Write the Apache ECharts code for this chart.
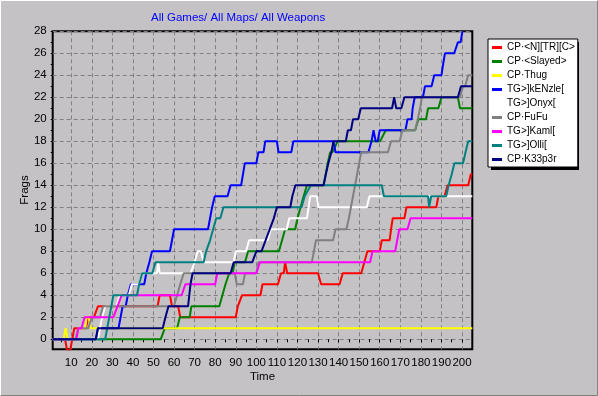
<!DOCTYPE html>
<html><head><meta charset="utf-8">
<script src="https://cdn.jsdelivr.net/npm/echarts@6/dist/echarts.min.js"></script>
<style>html,body{margin:0;padding:0;background:#c4c2c4;}#c{width:598px;height:396px;}</style>
</head><body><div id="c"></div>
<script>
const titleText = "All Games/ All Maps/ All Weapons";
const xName = "Time";
const yName = "Frags";
const names = ["CP·<N][TR][C>","CP·<Slayed>","CP·Thug","TG>]kENzle[","TG>]Onyx[","CP·FuFu","TG>]Kaml[","TG>]Olli[","CP·K33p3r"];
const colors = ["#ff0000","#008000","#ffff00","#0000ff","#ffffff","#808080","#ff00ff","#008080","#000080"];
const xLabels = [10,20,30,40,50,60,70,80,90,100,110,120,130,140,150,160,170,180,190,200];
const xMinorTicks = [5,10,15,20,25,30,35,40,45,50,55,60,65,70,75,80,85,90,95,100,105,110,115,120,125,130,135,140,145,150,155,160,165,170,175,180,185,190,195,200,205];
const yLabels = [0,2,4,6,8,10,12,14,16,18,20,22,24,26,28];
const yMinorTicks = [0,1,2,3,4,5,6,7,8,9,10,11,12,13,14,15,16,17,18,19,20,21,22,23,24,25,26,27,28];

// [time, frags]
const sRed = [[1,0],[7,0],[8,-1],[9.5,-1],[10.5,0],[11.5,1],[17,1],[18.5,2],[21,2],[23,3],[52,3],[53,4],[58,4],[59,3],[62,3],[63,2],[90,2],[91,3],[93,4],[102,4],[103,5],[110.5,5],[112,6],[113.3,6],[114,7],[114.5,7],[115,6],[130,6],[131.5,5],[140.5,5],[142,6],[151,6],[152.5,7],[154,8],[160,8],[161,9],[164.8,9],[165.5,10],[166.3,11],[172,11],[173,12],[187.5,12],[188.5,13],[191.5,13],[193,14],[203,14],[204.3,15],[205,15]];
const sGreen = [[1,0],[53.5,0],[55.5,1],[61.5,1],[62.8,2],[67.6,2],[68.4,3],[82,3],[83.5,4],[85,5],[86.8,6],[88.5,6],[89.5,7],[94.5,7],[96,8],[111,8],[112.5,9],[114,10],[118.9,10],[120,11],[121.5,12],[123,13],[124.6,14],[132.7,14],[133.7,15],[134.7,16],[135.9,17],[137,17],[139.5,18],[160.2,18],[162.9,19],[177.2,19],[178.8,20],[182.5,20],[183.5,21],[188.5,21],[190,22],[198,22],[199,21],[205,21]];
const sYellow = [[1,0],[6.3,0],[7.3,1],[8.3,0],[12.5,0],[13.5,1],[16.8,1],[17.5,2],[18.5,2],[19.5,1],[205,1]];
const sBlue = [[1,0],[22,0],[23,1],[33,1],[34,2],[35,3],[36.5,3],[37.5,4],[39,5],[45.5,5],[46.5,6],[48,7],[49.3,8],[58,8],[59,9],[60,10],[76.5,10],[77.5,11],[78.5,12],[79.8,13],[86,13],[87.5,14],[92.6,14],[93.5,15],[94.4,16],[100,16],[101,17],[103.5,17],[104.3,18],[110,18],[110.8,17],[117,17],[118,18],[137.5,18],[138.5,17],[154.5,17],[156,18],[157,19],[158,18],[159,18],[160,19],[172.5,19],[173.5,20],[175.5,20],[176,21],[177,22],[181,22],[182,23],[185.2,23],[186.5,24],[190,24],[190.8,25],[191.7,26],[196.2,26],[198,27],[199.3,27],[200.2,28]];
const sWhite = [[1,0],[23,0],[24,1],[25,2],[26.5,3],[32,3],[33.5,4],[38,4],[39.5,5],[43,5],[44.5,6],[51.7,6],[52.3,7],[53,6],[68,6],[70,7],[71.5,8],[73,8],[74.5,7],[89,7],[90,8],[95,8],[96.5,9],[105.5,9],[107,10],[114.8,10],[116,11],[124.6,11],[125.4,12],[126.2,13],[129.4,13],[130.2,12],[153.7,12],[155,13],[205,13]];
const sGray = [[1,0],[12,0],[13.5,1],[18.3,1],[20,2],[24,2],[25.5,3],[59.9,3],[61.5,4],[63,5],[64.7,6],[89.5,6],[90.5,5],[93.5,5],[94.5,6],[100,6],[101,7],[127,7],[128,8],[129,9],[137.3,9],[138.5,10],[143.8,10],[145,11],[146,12],[147,13],[148,14],[149,15],[150,16],[151,17],[164,17],[165.5,18],[169.7,18],[171,19],[177.2,19],[178.5,20],[179.6,21],[180.5,22],[199,22],[200.5,23],[201.5,23],[203,24],[205,24]];
const sMagenta = [[1,0],[12.5,0],[13.5,1],[15,1],[16.5,2],[30.5,2],[32.5,3],[34.5,4],[63.7,4],[65.5,5],[80,5],[81,6],[100,6],[101.8,7],[155.3,7],[156.5,8],[167.5,8],[168.5,9],[169.5,10],[173.5,10],[175,11],[205,11]];
const sTeal = [[1,0],[26.5,0],[27.5,1],[28.5,2],[29.5,3],[30.5,4],[42,4],[43,5],[44.5,6],[49.4,6],[51,7],[74.4,7],[75.6,8],[77.5,9],[79,10],[80.5,11],[82.5,11],[84,12],[122,12],[123.5,13],[126.5,14],[161,14],[162,13],[183.5,13],[184,12],[184.5,12],[185,13],[192.3,13],[193.5,14],[195,15],[196.3,16],[200.5,16],[201.7,17],[203,18],[205,18]];
const sNavy = [[1,0],[22,0],[23,1],[54.5,1],[55.8,2],[57.3,3],[66.8,3],[68,5],[69,6],[87.5,6],[89,7],[98,7],[100,8],[102.5,8],[104.5,9],[106.5,10],[108.5,11],[110,12],[116.5,12],[117.5,13],[119,14],[132.7,14],[133.8,15],[135,16],[136.5,17],[137.5,18],[143.5,18],[144.5,19],[146,19],[147,20],[149.5,20],[150.8,21],[166,21],[167,22],[168,21],[170.5,21],[172,22],[198,22],[199.5,23],[205,23]];
const seriesData = [sRed,sGreen,sYellow,sBlue,sWhite,sGray,sMagenta,sTeal,sNavy];

const chart = echarts.init(document.getElementById('c'), null, {renderer:'canvas'});
const F = 'Liberation Sans, Arial, sans-serif';
const G = {left:52.7, right:125.7, top:31.3, bottom:46.8};
chart.setOption({
  animation:false,
  backgroundColor:'#c4c2c4',
  textStyle:{fontFamily:F},
  title:{text:titleText, left:151, top:12, padding:0, textStyle:{color:'#0000ff', fontSize:11.5, fontWeight:'normal', fontFamily:F}},
  grid:Object.assign({show:true, borderColor:'#000', borderWidth:2, backgroundColor:'transparent', containLabel:false}, G),
  legend:{orient:'vertical', left:488, top:39, padding:[3,3,2,4], itemGap:3, itemWidth:10, itemHeight:3, icon:'rect',
    backgroundColor:'#fff', borderColor:'#000', borderWidth:1, selectedMode:false,
    textStyle:{fontSize:10, lineHeight:11, color:'#000', fontFamily:F}, data:names},
  graphic:[
    {type:'rect', z:0, shape:{x:491, y:42, width:88, height:128}, style:{fill:'#000'}},
    {type:'polyline', z:0, shape:{points:[[0.5,395],[0.5,0.5],[597,0.5]]}, style:{stroke:'#ffffff', lineWidth:1, fill:null}},
    {type:'polyline', z:0, shape:{points:[[1,395.5],[597.5,395.5],[597.5,1]]}, style:{stroke:'#808080', lineWidth:1, fill:null}},
    {type:'text', z:5, x:262.5, y:377, style:{text:xName, fill:'#000', font:'11.5px '+F, align:'center', verticalAlign:'middle'}},
    {type:'text', z:5, x:25, y:190, rotation:Math.PI/2, style:{text:yName, fill:'#000', font:'11.5px '+F, align:'center', verticalAlign:'middle'}}
  ],
  xAxis:[
    {type:'value', min:1, max:205, position:'bottom',
     axisLine:{show:false}, axisTick:{show:false, customValues:xLabels},
     axisLabel:{color:'#000', fontSize:11.5, margin:8, customValues:xLabels, fontFamily:F},
     splitLine:{show:true, lineStyle:{color:'#808080', type:[4,3], width:1}}},
    {type:'value', min:1, max:205, position:'bottom', axisLine:{show:false},
     axisTick:{show:true, inside:false, length:3, customValues:xMinorTicks, lineStyle:{color:'#000'}},
     axisLabel:{show:false}, splitLine:{show:false}}
  ],
  yAxis:[
    {type:'value', min:-0.9, max:28, position:'left',
     axisLine:{show:false}, axisTick:{show:false, customValues:yLabels},
     axisLabel:{color:'#000', fontSize:11.5, margin:6, customValues:yLabels, fontFamily:F},
     splitLine:{show:true, lineStyle:{color:'#808080', type:[4,3], width:1}}},
    {type:'value', min:-0.9, max:28, position:'left', axisLine:{show:false},
     axisTick:{show:true, length:2, customValues:yMinorTicks, lineStyle:{color:'#000'}},
     axisLabel:{show:false}, splitLine:{show:false}}
  ],
  series: names.map((n,i)=>({name:n, type:'line', data:seriesData[i], showSymbol:false, symbol:'none',
    lineStyle:{color:colors[i], width:2}, itemStyle:{color:colors[i]}, z:2+i*0.01, animation:false, clip:true}))
});
</script></body></html>
